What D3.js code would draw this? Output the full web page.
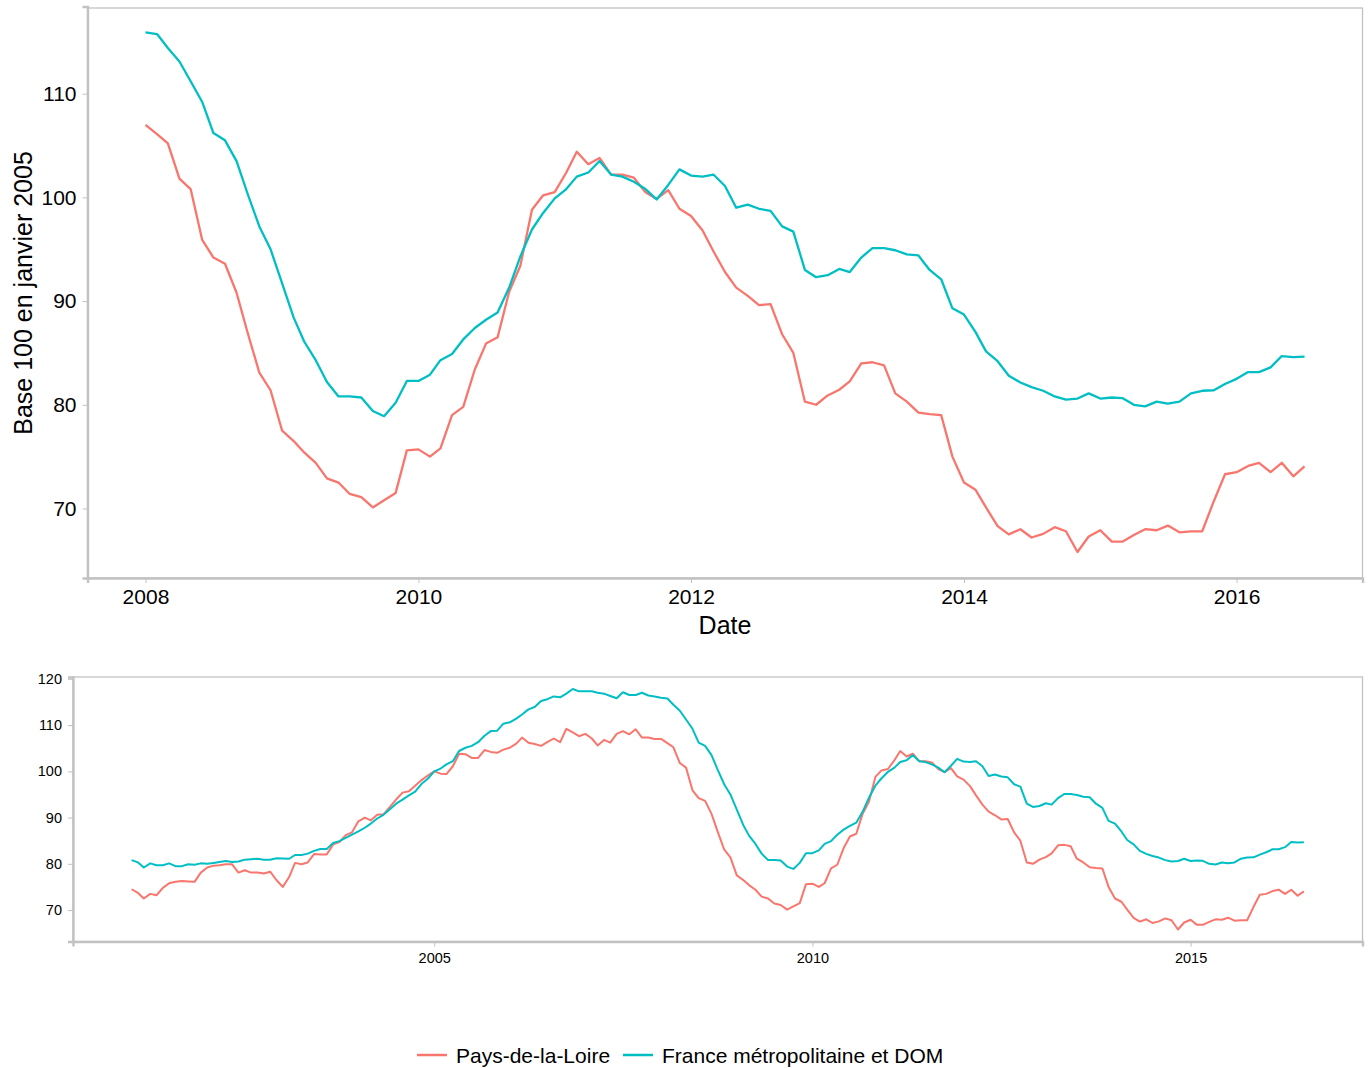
<!DOCTYPE html>
<html>
<head>
<meta charset="utf-8">
<script src="https://cdn.jsdelivr.net/npm/d3@7"></script>
<style>
  body { margin: 0; background: #fff; }
  text { font-family: "Liberation Sans", Arial, sans-serif; fill: #000; }
</style>
</head>
<body>
<svg id="chart" width="1369" height="1068"></svg>
<script>
// ====== Données ======
// Série mensuelle, janvier 2001 -> juillet 2016 (base 100 en janvier 2005)
const FIRST_MONTH = new Date(2001, 0, 1);
const LAST_MONTH = new Date(2016, 6, 1);
const ZOOM_START = new Date(2008, 0, 1);

const seriesNames = ["Pays-de-la-Loire", "France métropolitaine et DOM"];
const seriesColors = ["#F8766D", "#00BFC4"];

const paysDeLaLoire = [
  74.5, 73.7, 72.5, 73.5, 73.2, 74.8, 75.8, 76.1, 76.3, 76.2, 76.1, 78.1,
  79.2, 79.6, 79.7, 79.9, 79.9, 78.1, 78.6, 78.1, 78.1, 77.9, 78.3, 76.5,
  75.0, 77.2, 80.2, 79.9, 80.3, 82.1, 82.0, 82.0, 84.2, 84.7, 86.2, 86.8,
  89.2, 90.0, 89.4, 90.6, 90.7, 92.3, 93.9, 95.4, 95.7, 96.9, 98.1, 99.1,
  100.0, 99.5, 99.4, 101.1, 103.8, 103.7, 102.9, 102.9, 104.6, 104.2, 104.0, 104.7,
  105.1, 106.0, 107.3, 106.2, 105.9, 105.5, 106.3, 107.1, 106.3, 109.2, 108.4, 107.6,
  108.1, 107.1, 105.6, 106.8, 106.2, 108.1, 108.7, 108.0, 109.1, 107.3, 107.3, 107.0,
  107.0, 106.1, 105.2, 101.8, 100.8, 95.9, 94.2, 93.6, 90.8, 86.9, 83.1, 81.4,
  77.5, 76.5, 75.4, 74.4, 72.9, 72.5, 71.4, 71.1, 70.1, 70.8, 71.5, 75.6,
  75.7, 75.0, 75.8, 79.0, 79.8, 83.4, 85.9, 86.5, 90.9, 93.4, 98.8, 100.2,
  100.5, 102.4, 104.4, 103.2, 103.8, 102.2, 102.2, 101.9, 100.5, 99.85, 100.7, 98.9,
  98.2, 96.8, 94.8, 92.8, 91.3, 90.5, 89.6, 89.7, 86.8, 85.0, 80.3, 80.0,
  80.9, 81.45, 82.25, 84.0, 84.1, 83.8, 81.1, 80.3, 79.25, 79.1, 79.0, 75.0,
  72.5, 71.8, 70.1, 68.3, 67.5, 68.0, 67.2, 67.55, 68.2, 67.8, 65.8, 67.3,
  67.9, 66.8, 66.8, 67.45, 68.0, 67.9, 68.35, 67.7, 67.8, 67.8, 70.7, 73.3,
  73.5, 74.1, 74.4, 73.5, 74.4, 73.1, 74.05
];

const franceMetroDom = [
  80.8, 80.3, 79.2, 80.1, 79.7, 79.7, 80.1, 79.5, 79.5, 79.9, 79.8, 80.1,
  80.0, 80.2, 80.4, 80.6, 80.4, 80.5, 80.9, 81.0, 81.1, 80.9, 80.9, 81.2,
  81.15, 81.1, 81.9, 81.9, 82.2, 82.8, 83.2, 83.2, 84.5, 84.9, 85.6, 86.3,
  87.0, 87.8, 88.7, 89.8, 90.6, 91.8, 93.0, 93.9, 94.8, 95.6, 97.3, 98.4,
  100.0, 100.6, 101.5, 102.2, 104.4, 105.1, 105.5, 106.3, 107.7, 108.7, 108.8, 110.3,
  110.6, 111.4, 112.3, 113.4, 113.9, 115.2, 115.6, 116.2, 116.0, 116.8, 117.8, 117.3,
  117.3, 117.3, 117.0, 116.8, 116.3, 115.8, 117.1, 116.5, 116.5, 117.0, 116.4, 116.2,
  115.9, 115.75, 114.4, 113.1, 111.2, 109.2, 106.2, 105.5, 103.5, 100.3, 97.2, 95.0,
  91.7, 88.4, 86.1, 84.3, 82.2, 80.8, 80.8, 80.7, 79.4, 78.9, 80.2, 82.3,
  82.3, 82.9, 84.3, 84.9, 86.3, 87.4, 88.2, 88.9, 91.3, 94.3, 96.9, 98.5,
  99.9, 100.8, 102.0, 102.4, 103.5, 102.2, 102.0, 101.5, 100.8, 99.8, 101.2, 102.7,
  102.1, 102.0, 102.2, 101.1, 99.0, 99.3, 98.9, 98.7, 97.2, 96.7, 93.0, 92.3,
  92.5, 93.1, 92.8, 94.2, 95.1, 95.1, 94.9, 94.5, 94.4, 93.0, 92.1, 89.3,
  88.7, 87.0, 85.15, 84.2, 82.8, 82.15, 81.7, 81.35, 80.8, 80.5, 80.6, 81.1,
  80.6, 80.7, 80.65, 80.0, 79.85, 80.3, 80.1, 80.3, 81.1, 81.35, 81.4, 82.0,
  82.5, 83.15, 83.15, 83.6, 84.7, 84.6, 84.65
];

// Graduations
const topYTicks = [70, 80, 90, 100, 110];
const topXTicks = [2008, 2010, 2012, 2014, 2016];
const bottomYTicks = [70, 80, 90, 100, 110, 120];
const bottomXTicks = [2005, 2010, 2015];

// ====== Préparation ======
const months = d3.timeMonth.range(FIRST_MONTH, d3.timeMonth.offset(LAST_MONTH, 1));
const series = [paysDeLaLoire, franceMetroDom].map((vals, i) => ({
  name: seriesNames[i],
  color: seriesColors[i],
  points: vals.map((v, j) => ({ date: months[j], value: v }))
}));

const svg = d3.select("#chart");
const AXIS_GREY = "#c2c2c2";

// expansion 5% de chaque côté (comme ggplot)
function expand(lo, hi) {
  const pad = (hi - lo) * 0.05;
  return [lo - pad, hi + pad];
}

function drawPanel(opts) {
  const { left, right, top, bottom, plotTop, from, yTicks, xTicks, fontSize, lineWidth, pad } = opts;
  const g = svg.append("g");

  const subset = series.map(s => ({ ...s, points: s.points.filter(p => p.date >= from) }));
  const allVals = subset.flatMap(s => s.points.map(p => p.value));
  const t0 = +from, t1 = +LAST_MONTH;
  const [xa, xb] = expand(t0, t1);

  const x = d3.scaleTime().domain([new Date(xa), new Date(xb)]).range([left, right]);
  const y = d3.scaleLinear().domain(expand(d3.min(allVals), d3.max(allVals))).range([bottom, plotTop]);

  // cadre
  g.append("rect")
    .attr("x", left).attr("y", top)
    .attr("width", right - left).attr("height", bottom - top)
    .attr("fill", "none").attr("stroke", AXIS_GREY).attr("stroke-width", 1.3);

  const xAxis = g.append("g")
    .attr("transform", `translate(0,${bottom})`)
    .call(d3.axisBottom(x)
      .tickValues(xTicks.map(yr => new Date(yr, 0, 1)))
      .tickFormat(d3.timeFormat("%Y"))
      .tickSizeOuter(0).tickSize(5).tickPadding(pad));

  const yAxis = g.append("g")
    .attr("transform", `translate(${left},0)`)
    .call(d3.axisLeft(y)
      .tickValues(yTicks)
      .tickSizeOuter(0).tickSize(5).tickPadding(pad));

  [xAxis, yAxis].forEach(a => {
    a.select(".domain").attr("stroke", AXIS_GREY).attr("stroke-width", 2.4);
    a.selectAll(".tick line").attr("stroke", AXIS_GREY).attr("stroke-width", 1);
    a.selectAll(".tick text").attr("font-size", fontSize).attr("fill", "#000")
      .style("font-family", "'Liberation Sans', Arial, sans-serif");
  });

  const line = d3.line().x(d => x(d.date)).y(d => y(d.value));
  g.selectAll("path.serie")
    .data(subset)
    .join("path")
    .attr("class", "serie")
    .attr("fill", "none")
    .attr("stroke", d => d.color)
    .attr("stroke-width", lineWidth)
    .attr("stroke-linejoin", "round")
    .attr("d", d => line(d.points));

  return g;
}

// ====== Panneau principal (zoom 2008 -> 2016) ======
drawPanel({
  left: 87.5, right: 1362.5, top: 8, plotTop: 6.5, bottom: 578,
  from: ZOOM_START, yTicks: topYTicks, xTicks: topXTicks,
  fontSize: 21, lineWidth: 2.3, pad: 6
});

svg.append("text")
  .attr("x", 725).attr("y", 634)
  .attr("text-anchor", "middle")
  .attr("font-size", 25)
  .text("Date");

svg.append("text")
  .attr("transform", "translate(32,293) rotate(-90)")
  .attr("text-anchor", "middle")
  .attr("font-size", 25)
  .text("Base 100 en janvier 2005");

// ====== Panneau de contexte (toute la période) ======
drawPanel({
  left: 73, right: 1362.5, top: 677, plotTop: 677, bottom: 941.5,
  from: FIRST_MONTH, yTicks: bottomYTicks, xTicks: bottomXTicks,
  fontSize: 14.5, lineWidth: 2, pad: 6
});

// ====== Légende ======
const legend = svg.append("g").attr("transform", "translate(417,1055)");
const legendX = [0, 206];
series.forEach((s, i) => {
  const item = legend.append("g").attr("transform", `translate(${legendX[i]},0)`);
  item.append("line")
    .attr("x1", 0).attr("x2", 30).attr("y1", 0).attr("y2", 0)
    .attr("stroke", s.color).attr("stroke-width", 2.5);
  item.append("text")
    .attr("x", 39).attr("y", 8)
    .attr("font-size", 21)
    .text(s.name);
});
</script>
</body>
</html>
